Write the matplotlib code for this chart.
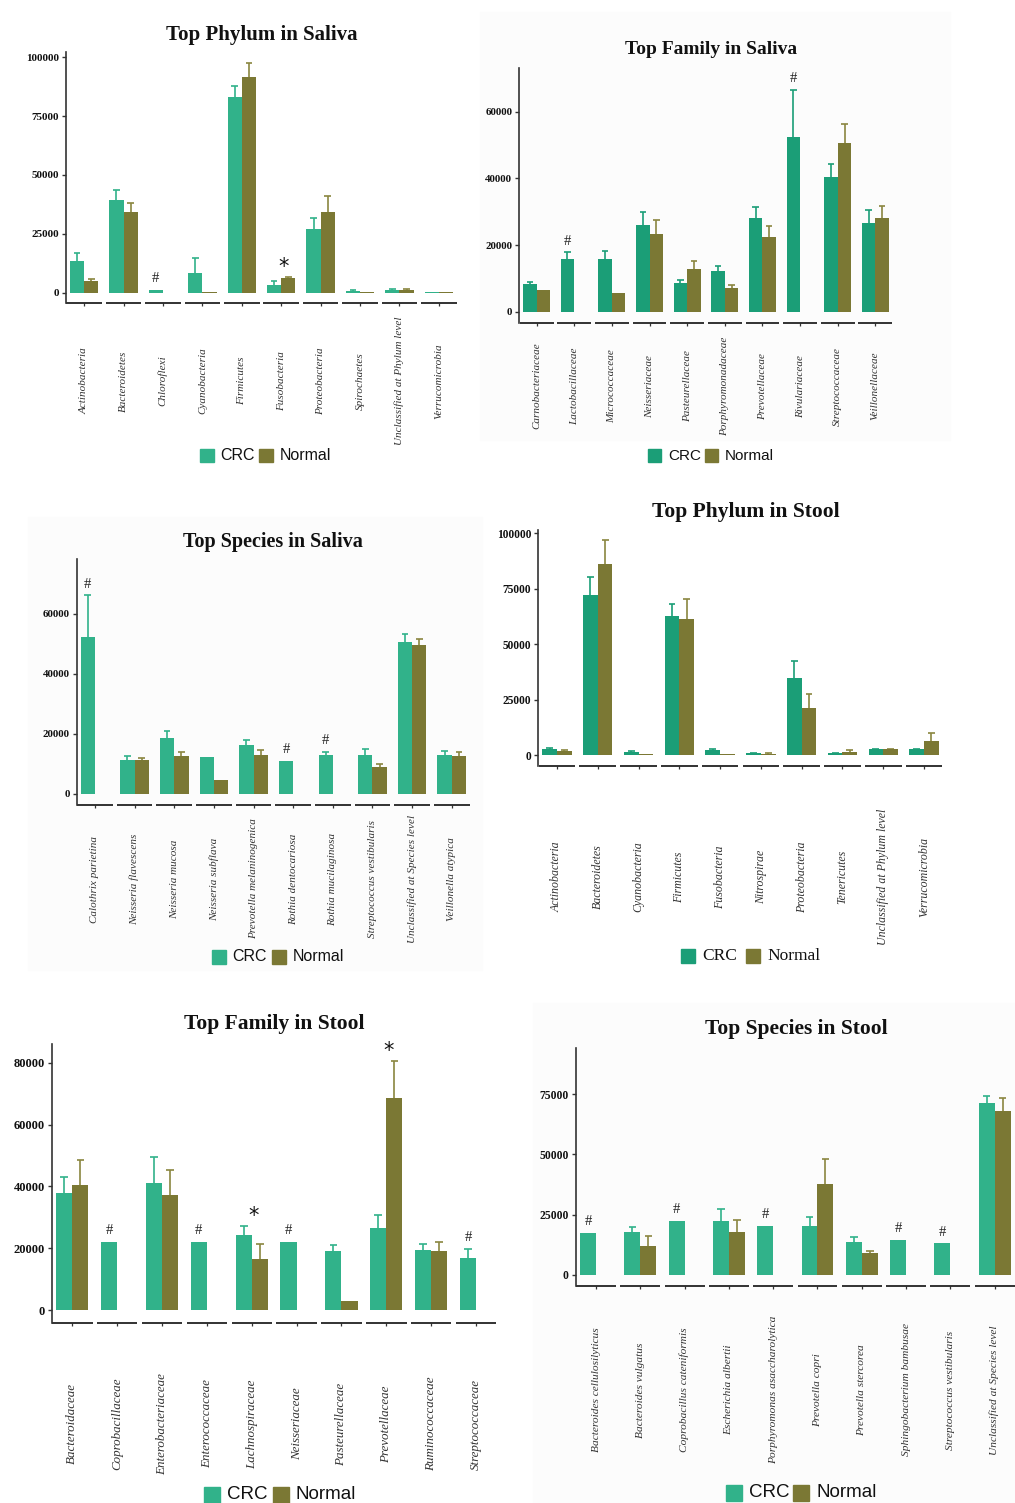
import numpy as np
import matplotlib.pyplot as plt
from matplotlib.patches import Rectangle

W, H = 1015, 1503

# saliva, phylum level
sp_names = ['Actinobacteria', 'Bacteroidetes', 'Chloroflexi', 'Cyanobacteria', 'Firmicutes',
            'Fusobacteria', 'Proteobacteria', 'Spirochaetes', 'Unclassified at Phylum level',
            'Verrucomicrobia']
sp_crc = [13600, 39400, 1100, 8500, 83300, 3300, 26900, 800, 1300, 500]
sp_crc_err = [3400, 4200, 0, 6100, 4600, 1700, 4700, 200, 200, 0]
sp_normal = [5000, 34200, 0, 300, 91500, 6100, 34200, 500, 1200, 500]
sp_normal_err = [700, 3800, 0, 0, 6000, 700, 6900, 0, 200, 0]
sp_marks = ['', '', '#', '', '', '*', '', '', '', '']

# saliva, family level
sf_names = ['Carnobacteriaceae', 'Lactobacillaceae', 'Micrococcaceae', 'Neisseriaceae',
            'Pasteurellaceae', 'Porphyromonadaceae', 'Prevotellaceae', 'Rivulariaceae',
            'Streptococcaceae', 'Veillonellaceae']
sf_crc = [8200, 15800, 15700, 26000, 8500, 12300, 28000, 52500, 40500, 26700]
sf_crc_err = [800, 2000, 2400, 3800, 1000, 1500, 3500, 14000, 3800, 3800]
sf_normal = [6500, 0, 5500, 23300, 12700, 7000, 22500, 0, 50700, 28000]
sf_normal_err = [0, 0, 0, 4200, 2600, 1000, 3200, 0, 5600, 3700]
sf_marks = ['', '#', '', '', '', '', '', '#', '', '']

# saliva, species level
ss_names = ['Calothrix parietina', 'Neisseria flavescens', 'Neisseria mucosa', 'Neisseria subflava',
            'Prevotella melaninogenica', 'Rothia dentocariosa', 'Rothia mucilaginosa',
            'Streptococcus vestibularis', 'Unclassified at Species level', 'Veillonella atypica']
ss_crc = [52200, 11300, 18600, 12400, 16300, 11000, 12900, 13000, 50800, 13000]
ss_crc_err = [14000, 1400, 2300, 0, 1700, 0, 1100, 2000, 2400, 1200]
ss_normal = [0, 11300, 12800, 4700, 13000, 0, 0, 8900, 49700, 12800]
ss_normal_err = [0, 800, 1100, 0, 1700, 0, 0, 1100, 1900, 1200]
ss_marks = ['#', '', '', '', '', '#', '#', '', '', '']

# stool, phylum level
tp_names = ['Actinobacteria', 'Bacteroidetes', 'Cyanobacteria', 'Firmicutes', 'Fusobacteria',
            'Nitrospirae', 'Proteobacteria', 'Tenericutes', 'Unclassified at Phylum level',
            'Verrucomicrobia']
tp_crc = [2700, 72200, 1200, 62900, 2200, 900, 34900, 800, 2600, 2600]
tp_crc_err = [400, 8000, 800, 5100, 300, 100, 7500, 100, 200, 300]
tp_normal = [2000, 86200, 500, 61400, 300, 600, 21100, 1500, 2700, 6300]
tp_normal_err = [300, 10800, 0, 9000, 0, 100, 6400, 700, 200, 3500]
tp_marks = [''] * 10

# stool, family level
tf_names = ['Bacteroidaceae', 'Coprobacillaceae', 'Enterobacteriaceae', 'Enterococcaceae',
            'Lachnospiraceae', 'Neisseriaceae', 'Pasteurellaceae', 'Prevotellaceae',
            'Ruminococcaceae', 'Streptococcaceae']
tf_crc = [38000, 22100, 41000, 21900, 24300, 22100, 19200, 26600, 19400, 16900]
tf_crc_err = [4900, 0, 8400, 0, 2900, 0, 1800, 4100, 1900, 2800]
tf_normal = [40600, 0, 37200, 0, 16500, 0, 3000, 68700, 19100, 0]
tf_normal_err = [8100, 0, 8100, 0, 4800, 0, 0, 11900, 2800, 0]
tf_marks = ['', '#', '', '#', '*', '#', '', '*', '', '#']

# stool, species level
ts_names = ['Bacteroides cellulosilyticus', 'Bacteroides vulgatus', 'Coprobacillus cateniformis',
            'Escherichia albertii', 'Porphyromonas asaccharolytica', 'Prevotella copri',
            'Prevotella stercorea', 'Sphingobacterium bambusae', 'Streptococcus vestibularis',
            'Unclassified at Species level']
ts_crc = [17300, 17700, 22400, 22400, 20500, 20500, 13800, 14700, 13100, 71300]
ts_crc_err = [0, 2400, 0, 5100, 0, 3400, 2100, 0, 0, 3000]
ts_normal = [0, 12000, 0, 18000, 0, 37600, 9000, 0, 0, 67800]
ts_normal_err = [0, 4200, 0, 4600, 0, 10600, 1000, 0, 0, 5400]
ts_marks = ['#', '', '#', '', '#', '', '', '#', '#', '']

CRC_LIGHT = '#31b28a'
CRC_DARK = '#1b9e77'
NORMAL = '#7b7834'
NORMAL_ERR = '#8a8640'
SERIF = 'Liberation Serif'
SANS = 'Liberation Sans'

fig = plt.figure(figsize=(W / 100, H / 100), dpi=100)
fig.patch.set_facecolor('white')

# faint panel backgrounds, kept underneath the axes
for l, t, r, b in [(480, 12, 950, 440), (28, 517, 482, 970), (533, 1003, 1015, 1503)]:
    fig.patches.append(Rectangle((l / W, 1 - b / H), (r - l) / W, (b - t) / H,
                                 transform=fig.transFigure, color='#fcfcfc', zorder=-5))


def px_axes(left, top, right, bottom):
    return fig.add_axes([left / W, 1 - bottom / H, (right - left) / W, (bottom - top) / H])


def draw_panel(box, ylim, yticks, names, crc, crc_err, normal, normal_err, marks,
               crc_color, ytick_fs, label_fs, label_mid):
    ax = px_axes(*box)
    ax.patch.set_alpha(0)
    n = len(names)
    x = np.arange(n)
    crc, crc_err = np.array(crc, float), np.array(crc_err, float)
    normal, normal_err = np.array(normal, float), np.array(normal_err, float)
    w = 0.36
    ax.bar(x - w / 2, crc, w, color=crc_color, linewidth=0, zorder=2)
    ax.bar(x + w / 2, normal, w, color=NORMAL, linewidth=0, zorder=2)

    # upper half of the error bars only, capped at the top
    cap = 0.085
    for xs, v, e, c in [(x - w / 2, crc, crc_err, crc_color), (x + w / 2, normal, normal_err, NORMAL_ERR)]:
        m = e > 0
        ax.vlines(xs[m], v[m], v[m] + e[m], color=c, lw=1.2, zorder=1)
        ax.hlines(v[m] + e[m], xs[m] - cap, xs[m] + cap, color=c, lw=1.2, zorder=1)

    # significance marks
    for i, mk in enumerate(marks):
        if mk == '#':
            ax.annotate('#', (i - w / 2, crc[i] + crc_err[i]), xytext=(0, 3.5),
                        textcoords='offset points', ha='center', va='bottom',
                        family=SERIF, fontsize=10.5, color='#222')
        elif mk == '*':
            top = max(crc[i] + crc_err[i], normal[i] + normal_err[i])
            ax.annotate('*', (i + 0.05, top), xytext=(0, 0),
                        textcoords='offset points', ha='center', va='bottom',
                        family='DejaVu Sans', fontsize=15, color='#111')

    ax.set_xlim(-0.46, n - 1 + 0.46)
    ax.set_ylim(*ylim)
    ax.set_yticks(yticks)
    ax.set_yticklabels([str(t) for t in yticks], family=SERIF, fontweight='bold',
                       fontsize=ytick_fs, color='#111')
    ax.tick_params(axis='y', length=3, width=1, color='#333', pad=2)

    # broken x axis: one short segment per category
    for i in x:
        lo = max(i - 0.45, -0.46)
        ax.plot([lo, i + 0.45], [0, 0], transform=ax.get_xaxis_transform(),
                color='#222', lw=1.3, clip_on=False, solid_capstyle='butt')
    for s in ['top', 'right', 'bottom']:
        ax.spines[s].set_visible(False)
    ax.spines['left'].set_color('#333')
    ax.spines['left'].set_linewidth(1.2)

    ticklen = 2.5
    pad = (label_mid - box[3]) * 0.72 - ticklen
    ax.set_xticks(x)
    ax.set_xticklabels(names, rotation=90, family=SERIF, fontstyle='italic',
                       fontsize=label_fs, color='#333')
    ax.tick_params(axis='x', length=ticklen, width=0.9, color='#333', pad=pad)
    for lab in ax.get_xticklabels():
        lab.set_va('center')
    return ax


def title(x, y, text, size):
    fig.text(x / W, 1 - y / H, text, ha='center', va='center', family=SERIF,
             fontweight='bold', fontsize=size, color='#111')


def legend(x1, x2, y, s, fs, family, crc_color):
    for xp, lab, c in [(x1, 'CRC', crc_color), (x2, 'Normal', NORMAL)]:
        fig.patches.append(Rectangle((xp / W, 1 - (y + s / 2) / H), s / W, s / H,
                                     transform=fig.transFigure, color=c, zorder=3))
        fig.text((xp + s + 7) / W, 1 - y / H, lab, ha='left', va='center',
                 family=family, fontsize=fs, color='#111')


# top row: saliva phylum / family
draw_panel((66, 52, 457, 303), (-4375, 102250), [0, 25000, 50000, 75000, 100000],
           sp_names, sp_crc, sp_crc_err, sp_normal, sp_normal_err, sp_marks,
           CRC_LIGHT, 8, 8, 381)
title(262, 35, 'Top Phylum in Saliva', 15)
legend(200, 259, 455.5, 13.5, 11.5, SANS, CRC_LIGHT)

draw_panel((519.3, 67.7, 892.7, 323.3), (-3480, 73200), [0, 20000, 40000, 60000],
           sf_names, sf_crc, sf_crc_err, sf_normal, sf_normal_err, sf_marks,
           CRC_DARK, 7.8, 8, 386)
title(711, 50, 'Top Family in Saliva', 14)
legend(648, 705, 455.5, 13, 11, SANS, CRC_DARK)

# middle row: saliva species / stool phylum
draw_panel((76.7, 559.3, 470, 805), (-3670, 78230), [0, 20000, 40000, 60000],
           ss_names, ss_crc, ss_crc_err, ss_normal, ss_normal_err, ss_marks,
           CRC_LIGHT, 7.8, 8, 879)
title(273, 542, 'Top Species in Saliva', 14.5)
legend(212, 272, 957, 13.5, 11.5, SANS, CRC_LIGHT)

draw_panel((538.3, 530, 942.7, 766), (-4960, 101500), [0, 25000, 50000, 75000, 100000],
           tp_names, tp_crc, tp_crc_err, tp_normal, tp_normal_err, tp_marks,
           CRC_DARK, 8.3, 8.6, 877)
title(746, 512, 'Top Phylum in Stool', 15.5)
legend(681, 746, 955.5, 14, 12.5, SERIF, CRC_DARK)

# bottom row: stool family / species
draw_panel((51.7, 1044.3, 496.7, 1322.7), (-4110, 86000), [0, 20000, 40000, 60000, 80000],
           tf_names, tf_crc, tf_crc_err, tf_normal, tf_normal_err, tf_marks,
           CRC_LIGHT, 9, 9.4, 1424)
title(274, 1024, 'Top Family in Stool', 15.5)
legend(204, 272.5, 1494.5, 16, 13.5, SANS, CRC_LIGHT)

draw_panel((575.7, 1048.3, 1015, 1285.7), (-4440, 94000), [0, 25000, 50000, 75000],
           ts_names, ts_crc, ts_crc_err, ts_normal, ts_normal_err, ts_marks,
           CRC_LIGHT, 8.4, 8.2, 1390)
title(796, 1029, 'Top Species in Stool', 15.5)
legend(726, 793, 1492.5, 16, 13.5, SANS, CRC_LIGHT)

fig.savefig('out.png', dpi=100)
